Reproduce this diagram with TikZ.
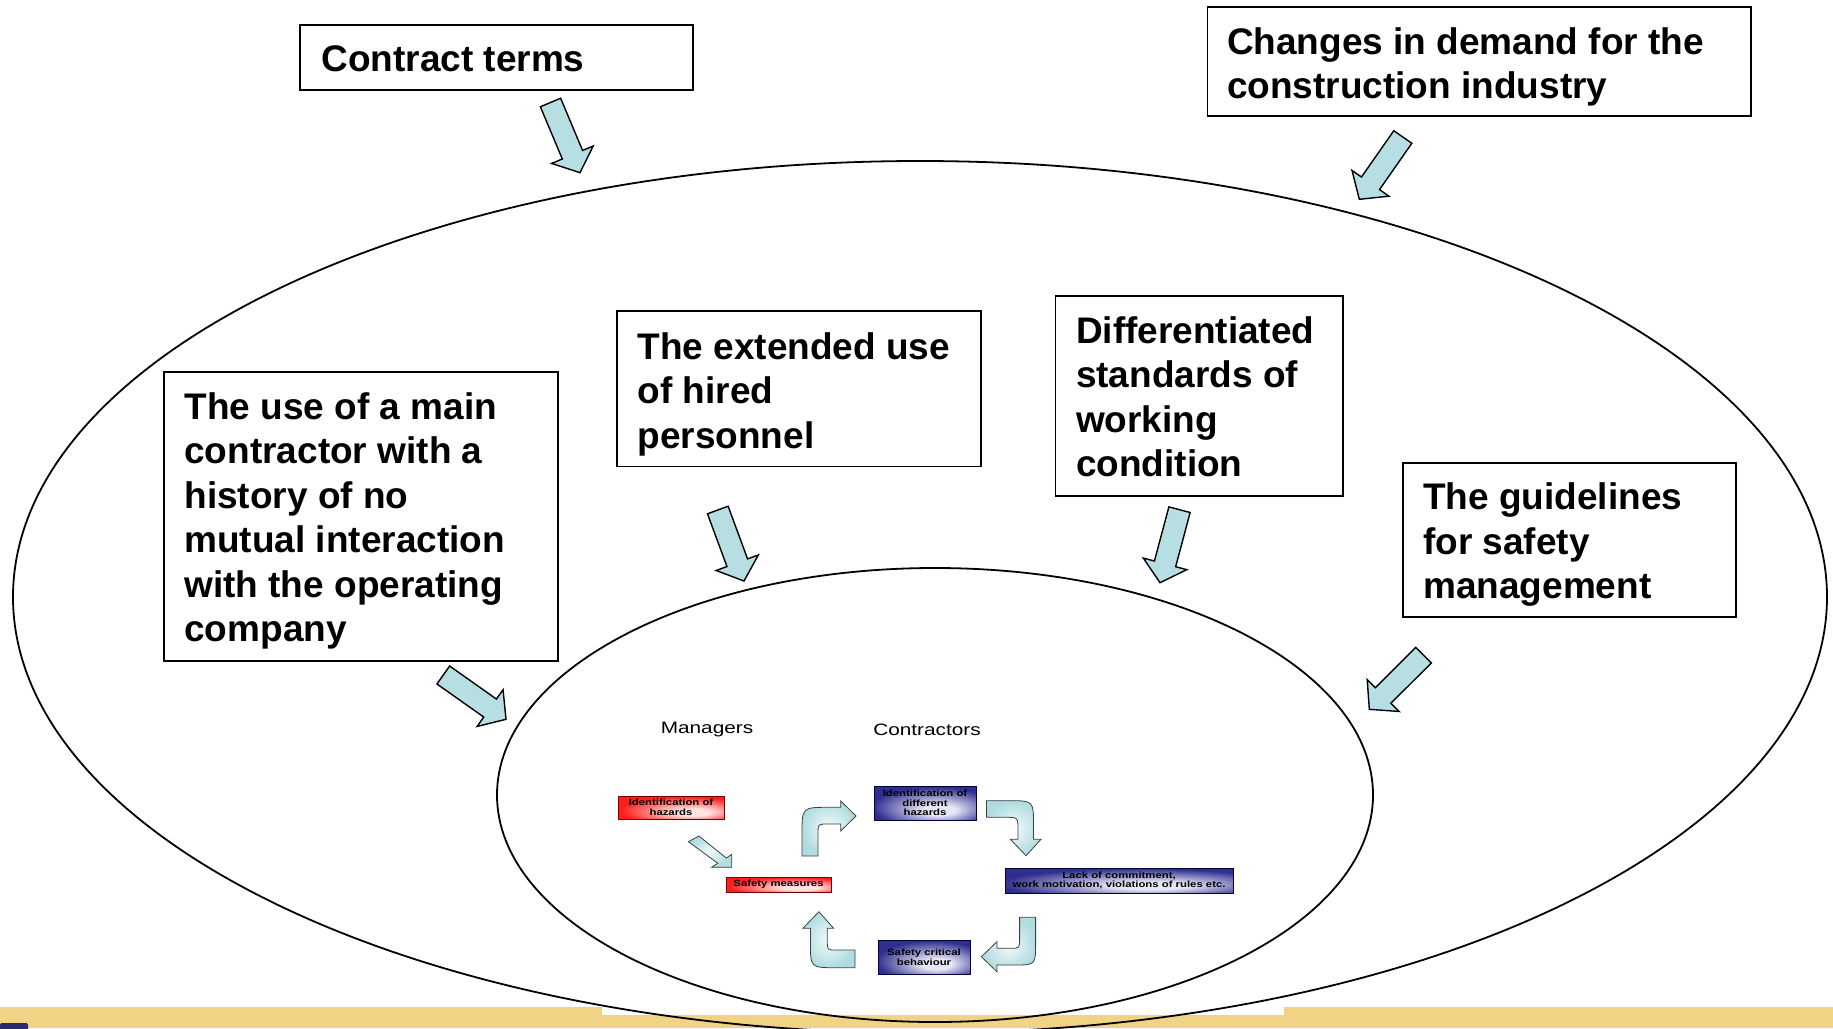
\documentclass[tikz,border=0pt]{standalone}
\usepackage{fontspec}
\setmainfont{Liberation Sans}
\newfontfamily\figfont[FakeStretch=1.26]{Liberation Sans}
\usetikzlibrary{calc}
\definecolor{arrfill}{HTML}{B7DFE3}
\definecolor{band}{HTML}{F1D386}
\definecolor{navyblob}{HTML}{2A2A70}
\definecolor{rdark}{HTML}{FF1E1E}
\definecolor{rglow}{HTML}{FFE2E2}
\definecolor{bdark}{HTML}{2E2E8E}
\definecolor{bglow}{HTML}{E6E6F4}
\definecolor{sarrA}{HTML}{B0DCE0}
\definecolor{sarrB}{HTML}{F4FBFC}
\pgfdeclareradialshading{redglow}{\pgfpoint{12bp}{-12bp}}{color(0bp)=(rglow); color(8bp)=(rglow); color(30bp)=(rdark); color(60bp)=(rdark)}
\pgfdeclareradialshading{blueglow}{\pgfpoint{8bp}{-12bp}}{color(0bp)=(bglow); color(8bp)=(bglow); color(30bp)=(bdark); color(60bp)=(bdark)}
\newcommand\fatarrow[2]{%
  \path ($(#2)!19.5pt!(#1)$) coordinate (hb);
  \draw[bigarr] ($(#1)!11pt!90:(#2)$) -- ($(hb)!11pt!90:(#2)$) -- ($(hb)!22.5pt!90:(#2)$) -- (#2)
    -- ($(hb)!22.5pt!-90:(#2)$) -- ($(hb)!11pt!-90:(#2)$) -- ($(#1)!11pt!-90:(#2)$) -- cycle;}
\begin{document}
\begin{tikzpicture}[x=1pt,y=-1pt,
  boxframe/.style={draw=black, line width=1.6pt, rectangle, inner sep=0pt},
  boxtext/.style={inner sep=0pt, align=left, anchor=west,
    font=\bfseries\fontsize{37}{44.4}\selectfont},
  ell/.style={draw=black, line width=1.8pt},
  bigarr/.style={draw=black, line width=1.4pt, fill=arrfill, line join=miter},
  smallbox/.style={rectangle, inner sep=0pt, align=center, line width=0.9pt,
    font=\figfont\bfseries\fontsize{9}{9.6}\selectfont},
  redbox/.style={smallbox, draw=red!45!black, shade, shading=redglow},
  bluebox/.style={smallbox, draw=blue!25!black, shade, shading=blueglow},
  smallarr/.style={draw=black!75, line width=0.8pt, inner color=sarrB, outer color=sarrA},
  lbl/.style={font=\figfont\fontsize{16.5}{19}\selectfont, inner sep=0pt}]
\useasboundingbox (0,0) rectangle (1833,1028);
\fill[white] (0,0) rectangle (1833,1028);
% bottom band
\fill[band] (0,1006.5) rectangle (1833,1028);
\fill[white] (602,1006.5) rectangle (1284,1015);
\fill[navyblob, rounded corners=2pt] (0,1023) rectangle (28,1034);
% ellipses
\draw[ell] (920,597) ellipse [x radius=907pt, y radius=436pt];
\draw[ell] (935,795) ellipse [x radius=438pt, y radius=227pt];
% boxes
\node[boxframe, minimum width=393pt, minimum height=65pt] (ct) at (496.5,57.5) {};
\node[boxtext] (ctt) at ($(ct.west)+(22,1.2)$) {Contract terms};
\node[boxframe, minimum width=543.4pt, minimum height=108.7pt] (cd) at (1479.3,61.35) {};
\node[boxtext] (cdt) at ($(cd.west)+(20,5.5)$) {Changes in demand for the\\construction industry};
\node[boxframe, minimum width=394pt, minimum height=289pt] (mc) at (361,516.5) {};
\node[boxtext] (mct) at ($(mc.west)+(21,4.5)$) {The use of a main\\contractor with a\\history of no\\mutual interaction\\with the operating\\company};
\node[boxframe, minimum width=363.6pt, minimum height=155.4pt] (eu) at (799,388.7) {};
\node[boxtext] (eut) at ($(eu.west)+(21,5.5)$) {The extended use\\of hired\\personnel};
\node[boxframe, minimum width=287.6pt, minimum height=199.9pt] (ds) at (1199.4,395.75) {};
\node[boxtext] (dst) at ($(ds.west)+(21,1.2)$) {Differentiated\\standards of\\working\\condition};
\node[boxframe, minimum width=333.2pt, minimum height=154.2pt] (gl) at (1569.4,540.1) {};
\node[boxtext] (glt) at ($(gl.west)+(21,4.5)$) {The guidelines\\for safety\\management};
% big arrows
\coordinate (aT) at (550.5,102.5);  \coordinate (aH) at (580,172.7);
\coordinate (bT) at (1402.8,137);   \coordinate (bH) at (1359.3,199.3);
\coordinate (cT) at (443.3,675);    \coordinate (cH) at (506,719.3);
\coordinate (dT) at (717.8,510);    \coordinate (dH) at (744,581);
\coordinate (eT) at (1179.5,509.7); \coordinate (eH) at (1160,582.7);
\coordinate (fT) at (1423.5,655.2); \coordinate (fH) at (1369.3,709.3);
\fatarrow{aT}{aH}
\fatarrow{bT}{bH}
\fatarrow{cT}{cH}
\fatarrow{dT}{dH}
\fatarrow{eT}{eH}
\fatarrow{fT}{fH}
% centre figure
\node[lbl] (mgr) at (707,730) {Managers};
\node[lbl] (con) at (927,730) {Contractors};
\node[redbox, minimum width=106pt, minimum height=23pt] (r1) at (671,807.5) {Identification of\\hazards};
\node[redbox, minimum width=105pt, minimum height=15pt] (r2) at (778.5,884.5) {Safety measures};
\node[bluebox, minimum width=102pt, minimum height=34pt] (b1) at (925,803) {Identification of\\different\\hazards};
\node[bluebox, minimum width=228pt, minimum height=25pt] (b2) at (1119,880.5) {Lack of commitment,\\work motivation, violations of rules etc.};
\node[bluebox, minimum width=92pt, minimum height=34pt] (b3) at (924,957) {Safety critical\\behaviour};
% small arrows
\draw[smallarr] (688.4,841.7) -- (698.9,836) -- (726.3,858) -- (731.7,854.3) -- (731.7,867.3) -- (711.5,867.3) -- (717.8,863.3) -- cycle;
\draw[smallarr] (802,856) -- (802,834) .. controls (802,807.3) .. (829,807.3) -- (840.7,807.3) -- (840.7,801) -- (856,816) -- (840.7,831) -- (840.7,824) -- (828,824) .. controls (818,824) .. (818,834) -- (818,856) -- cycle;
\draw[smallarr] (986.4,800.7) -- (1009,800.7) .. controls (1033.5,800.7) .. (1033.5,825) -- (1033.5,839.3) -- (1041,839.3) -- (1026,855.7) -- (1010.4,839.3) -- (1018,839.3) -- (1018,830) .. controls (1018,817.3) .. (1005,817.3) -- (986.4,817.3) -- cycle;
\draw[smallarr] (1019.6,917.3) -- (1035.6,917.3) -- (1035.6,943) .. controls (1035.6,965) .. (1014,965) -- (996.9,965) -- (996.9,971.7) -- (981.3,956.7) -- (996.9,941.7) -- (996.9,948.3) -- (1010,948.3) .. controls (1019.6,948.3) .. (1019.6,939) -- cycle;
\draw[smallarr] (855,950) -- (855,967.7) -- (836,967.7) .. controls (810.4,967.7) .. (810.4,942) -- (810.4,928.3) -- (802.9,928.3) -- (818.9,911.7) -- (833.6,928.3) -- (827.3,928.3) -- (827.3,941) .. controls (827.3,950) .. (836,950) -- cycle;
\end{tikzpicture}
\end{document}
